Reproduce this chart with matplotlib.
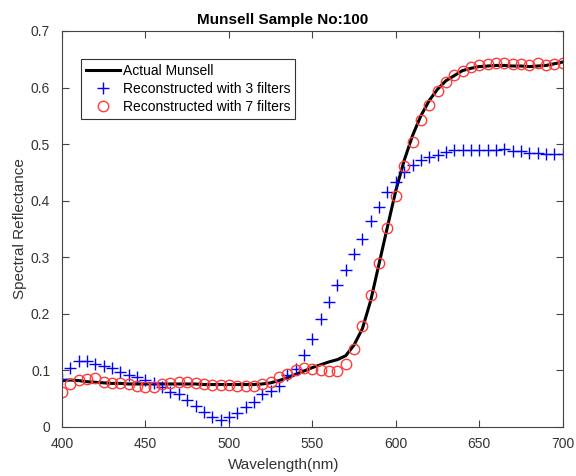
import matplotlib
matplotlib.use('Agg')
import matplotlib.pyplot as plt
import numpy as np

plt.rcParams['font.family'] = ['Liberation Sans', 'DejaVu Sans']

# wavelengths, 5 nm steps
wavelength = np.arange(400, 701, 5)

actual_munsell = [
    0.082, 0.083, 0.082, 0.080, 0.079, 0.078, 0.077, 0.077, 0.076, 0.076,
    0.076, 0.076, 0.076, 0.076, 0.076, 0.076, 0.076, 0.075, 0.075, 0.075,
    0.075, 0.075, 0.075, 0.075, 0.076, 0.078, 0.082, 0.087, 0.093, 0.099,
    0.105, 0.110, 0.115, 0.119, 0.126, 0.145, 0.174, 0.224, 0.289, 0.354,
    0.418, 0.471, 0.515, 0.550, 0.577, 0.597, 0.612, 0.621, 0.630, 0.634,
    0.637, 0.638, 0.639, 0.639, 0.638, 0.638, 0.637, 0.638, 0.639, 0.642,
    0.645,
]

recon_3_filters = [
    0.084, 0.105, 0.116, 0.116, 0.112, 0.107, 0.105, 0.098, 0.092, 0.088,
    0.083, 0.078, 0.071, 0.062, 0.058, 0.048, 0.037, 0.027, 0.018, 0.012,
    0.017, 0.024, 0.036, 0.045, 0.058, 0.064, 0.073, 0.091, 0.102, 0.127,
    0.156, 0.191, 0.221, 0.251, 0.277, 0.305, 0.332, 0.364, 0.389, 0.415,
    0.433, 0.451, 0.463, 0.471, 0.477, 0.480, 0.486, 0.489, 0.489, 0.490,
    0.490, 0.490, 0.489, 0.492, 0.488, 0.488, 0.485, 0.485, 0.483, 0.482,
    0.482,
]

recon_7_filters = [
    0.062, 0.076, 0.083, 0.085, 0.086, 0.079, 0.077, 0.077, 0.076, 0.073,
    0.071, 0.071, 0.076, 0.078, 0.079, 0.079, 0.077, 0.076, 0.074, 0.074,
    0.074, 0.073, 0.073, 0.073, 0.076, 0.079, 0.088, 0.093, 0.101, 0.104,
    0.103, 0.101, 0.099, 0.099, 0.112, 0.137, 0.179, 0.233, 0.290, 0.352,
    0.408, 0.461, 0.503, 0.543, 0.569, 0.593, 0.609, 0.623, 0.629, 0.636,
    0.640, 0.641, 0.643, 0.644, 0.641, 0.641, 0.640, 0.643, 0.640, 0.641,
    0.643,
]

fig = plt.figure(figsize=(5.76, 4.76), dpi=100)
ax = fig.add_axes([0.1076, 0.103, 0.8694, 0.832])

ax.plot(wavelength, actual_munsell, color='black', linewidth=2.2, label='Actual Munsell')
ax.plot(wavelength, recon_3_filters, linestyle='none', marker='+', color='#0000ff',
        markersize=9, markeredgewidth=1.0, label='Reconstructed with 3 filters')
ax.plot(wavelength, recon_7_filters, linestyle='none', marker='o', markerfacecolor='none',
        markeredgecolor='#ff3b3b', markersize=7.5, markeredgewidth=1.0,
        label='Reconstructed with 7 filters')

ax.set_xlim(400, 700)
ax.set_ylim(0, 0.7)
ax.set_xticks(np.arange(400, 701, 50))
ax.set_yticks(np.arange(0, 0.71, 0.1))
ax.set_yticklabels(['0', '0.1', '0.2', '0.3', '0.4', '0.5', '0.6', '0.7'])
ax.tick_params(direction='in', top=True, right=True, length=5, labelsize=10,
               color='#444444', labelcolor='#333333')
ax.tick_params(axis='x', pad=7.5)
ax.tick_params(axis='y', pad=8.5)
for s in ax.spines.values():
    s.set_color('#444444')
    s.set_linewidth(0.8)

# labels in the original sit a little left of the axes centre
ax.set_xlabel('Wavelength(nm)', fontsize=11, color='#333333', labelpad=5, x=0.443)
ax.set_ylabel('Spectral Reflectance', fontsize=11, color='#333333', labelpad=3)
ax.set_title('Munsell Sample No:100', fontsize=11, fontweight='bold', pad=5, x=0.44)

leg = ax.legend(loc='upper left', bbox_to_anchor=(0.038, 0.929), fontsize=10,
                frameon=True, fancybox=False, edgecolor='#333333', framealpha=1,
                handlelength=2.45, borderpad=0.35, labelspacing=0.3, handletextpad=0.2,
                borderaxespad=0)
leg.get_frame().set_linewidth(0.8)

fig.savefig('out.png', dpi=100)
